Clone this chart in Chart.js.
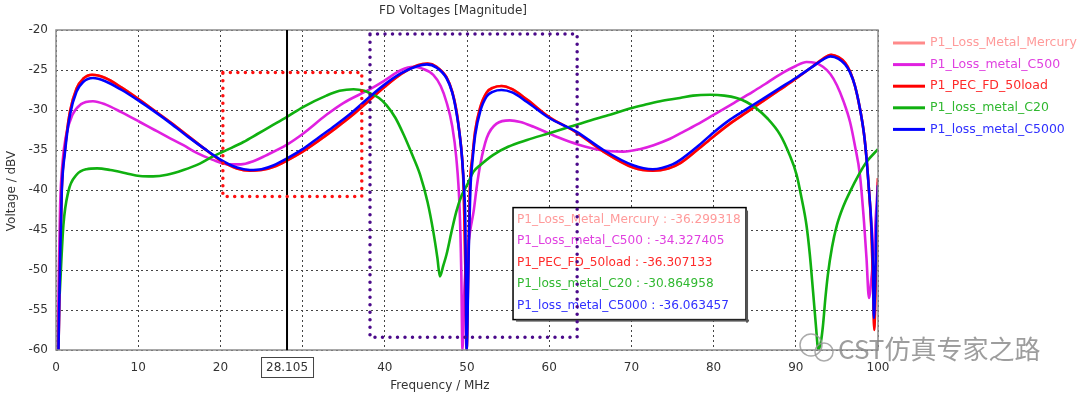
<!DOCTYPE html>
<html>
<head>
<meta charset="utf-8">
<script src="https://cdn.jsdelivr.net/npm/chart.js@4.4.1/dist/chart.umd.min.js"></script>
<style>
  body { margin: 0; background: #fff; }
  #wrap { width: 1080px; height: 397px; position: relative; }
</style>
</head>
<body>
<div id="wrap"><canvas id="chart"></canvas></div>
<script>
var FONT = '"DejaVu Sans", Verdana, sans-serif';

var seriesNames = ['P1_Loss_Metal_Mercury', 'P1_Loss_metal_C500', 'P1_PEC_FD_50load', 'P1_loss_metal_C20', 'P1_loss_metal_C5000'];
var probeValues = ['-36.299318', '-34.327405', '-36.307133', '-30.864958', '-36.063457'];
var markerFreq = 28.105;
var xTicks = [0, 10, 20, 30, 40, 50, 60, 70, 80, 90, 100];
var yTicks = [-60, -55, -50, -45, -40, -35, -30, -25, -20];

// P1_PEC_FD_50load
var freqPEC = [0.3, 0.5, 0.7, 1.1, 1.7, 2.5, 3.3, 4.4, 6, 8, 10, 12, 14, 16, 18, 20, 22, 23.6, 25, 26.5, 28.1, 30, 32, 34, 36, 38, 40, 42, 44, 45.2, 46.3, 47.5, 48.2, 48.7, 49.1, 49.4, 49.6, 49.75, 49.85, 49.95, 50.15, 50.35, 50.7, 51, 51.6, 52.4, 53.2, 54.2, 55.5, 57.3, 60, 63.3, 66.6, 70.2, 72.6, 74.5, 76, 78, 80, 82, 84, 86, 88, 90, 92, 93.3, 94.3, 95.2, 96, 96.6, 97.2, 97.8, 98.3, 98.6, 98.9, 99.2, 99.4, 99.55, 99.7, 99.85, 100];
var voltPEC = [-60, -48, -39.8, -34.8, -30.2, -27.3, -26.1, -25.6, -26.0, -27.2, -28.6, -30.1, -31.6, -33.2, -34.8, -36.3, -37.3, -37.6, -37.5, -37.1, -36.31, -35.2, -33.8, -32.3, -30.7, -28.9, -27.1, -25.5, -24.4, -24.2, -24.6, -25.9, -27.7, -30.0, -33, -36, -40, -47, -53, -60, -50, -40, -35.5, -32.6, -29.7, -27.8, -27.2, -27.0, -27.4, -28.7, -30.9, -32.8, -35.2, -37.2, -37.6, -37.3, -36.6, -35.0, -33.3, -31.7, -30.3, -28.9, -27.5, -26.1, -24.6, -23.6, -23.1, -23.4, -24.1, -25.2, -27, -29.8, -33, -36, -40, -45, -52, -57.5, -52, -45, -38.5];

// P1_Loss_Metal_Mercury (almost hidden under the PEC curve)
var freqMercury = freqPEC;
var voltMercury = [-60, -48.1, -39.9, -34.8, -30.2, -27.3, -26.1, -25.6, -26.0, -27.2, -28.6, -30.1, -31.6, -33.2, -34.8, -36.3, -37.3, -37.6, -37.5, -37.1, -36.30, -35.2, -33.8, -32.3, -30.7, -28.9, -27.1, -25.5, -24.4, -24.2, -24.6, -25.9, -27.7, -30.0, -33, -36, -40, -47, -53, -60, -50, -40, -35.5, -32.6, -29.7, -27.8, -27.2, -27.0, -27.4, -28.7, -30.9, -32.8, -35.2, -37.2, -37.6, -37.3, -36.6, -35.0, -33.3, -31.7, -30.3, -28.9, -27.5, -26.1, -24.6, -23.6, -23.1, -23.4, -24.1, -25.2, -27, -29.8, -33, -36, -40, -45, -52, -57.3, -52, -45, -38.6];

// P1_loss_metal_C5000
var freqC5000 = [0.3, 0.5, 0.7, 1.1, 1.7, 2.5, 3.3, 4.5, 6, 8, 10, 12, 14, 16, 18, 20, 22, 23.6, 25, 26.5, 28.1, 30, 32, 34, 36, 38, 40, 42, 44, 45.1, 46.3, 47.5, 48.2, 48.7, 49.1, 49.4, 49.65, 49.8, 49.95, 50.2, 50.4, 50.7, 51, 51.6, 52.4, 53.2, 54.2, 55.5, 57.3, 60, 63.3, 66.6, 70.2, 72.6, 75, 76, 78, 80, 82, 84, 86, 88, 90, 92, 93.3, 94.2, 95.2, 96, 96.6, 97.2, 97.8, 98.3, 98.6, 98.9, 99.2, 99.4, 99.5, 99.65, 99.8, 100];
var voltC5000 = [-60, -48.5, -40.2, -35.2, -30.6, -27.7, -26.5, -26.0, -26.4, -27.5, -28.8, -30.2, -31.7, -33.3, -34.8, -36.2, -37.2, -37.5, -37.4, -36.9, -36.06, -34.9, -33.4, -31.9, -30.3, -28.5, -26.8, -25.4, -24.5, -24.3, -24.7, -26.0, -27.8, -30.2, -33, -36, -40, -44.4, -60, -48, -40.2, -36, -33.1, -30.2, -28.3, -27.7, -27.5, -27.8, -29, -31.0, -32.7, -35.0, -36.9, -37.4, -36.8, -36.2, -34.6, -32.8, -31.2, -29.9, -28.6, -27.3, -26.0, -24.6, -23.7, -23.3, -23.6, -24.3, -25.3, -27, -29.8, -33, -36, -40, -44.4, -50, -56, -52, -45, -39.4];

// P1_Loss_metal_C500
var freqC500 = [0.2, 0.35, 0.5, 0.8, 1.2, 2, 3, 4.5, 6, 8, 10.2, 12, 14, 15.5, 17, 19, 21, 22.5, 24, 25.5, 28.1, 30, 32.9, 35, 38.2, 40, 42, 43.5, 44.5, 45.9, 46.8, 47.5, 48.2, 48.7, 49.1, 49.3, 49.45, 49.7, 50, 50.4, 50.8, 51.2, 51.6, 52.4, 53.6, 55.2, 56.5, 58.1, 61.3, 63.5, 66.2, 69, 71, 72.7, 74.7, 76, 78, 80, 82.5, 84.8, 86.5, 88.5, 90, 91.3, 92.3, 93.3, 94.2, 95, 95.8, 96.6, 97.2, 97.8, 98.3, 98.6, 98.9, 99.2, 99.5, 99.75, 100];
var voltC500 = [-60, -50, -42, -36.5, -33.3, -30.6, -29.3, -28.9, -29.3, -30.3, -31.5, -32.5, -33.6, -34.4, -35.3, -36.2, -36.8, -36.8, -36.4, -35.7, -34.33, -33.0, -30.6, -29.1, -27.4, -26.3, -25.0, -24.6, -24.8, -25.6, -27, -29, -32, -36, -42.3, -50, -60, -52, -48, -45, -42.7, -39.5, -36.9, -33.5, -31.7, -31.3, -31.5, -32.1, -33.5, -34.3, -35.0, -35.2, -34.9, -34.4, -33.6, -32.9, -31.8, -30.6, -29.1, -27.7, -26.6, -25.3, -24.5, -24.0, -24.1, -24.6, -25.5, -26.9, -28.9, -31.5, -34.5, -38.1, -44, -48.5, -53.5, -51, -47.7, -43, -39];

// P1_loss_metal_C20
var freqC20 = [0.45, 0.9, 1.5, 2.5, 3.7, 5, 6.6, 8.5, 10.2, 11.8, 13.5, 15.5, 17.5, 19.1, 21, 22.8, 24.5, 26, 28.1, 30.1, 32.9, 34.5, 36.2, 37.5, 38.2, 39.3, 40.2, 41.3, 42.3, 43.3, 44.3, 45.2, 45.9, 46.4, 46.7, 47.1, 47.5, 48.1, 48.7, 49.3, 50, 50.8, 51.6, 53.2, 55, 57.3, 60, 62.5, 65, 67.4, 69.5, 71.4, 73.5, 75.9, 77.5, 79.6, 81.3, 82.8, 84, 85.2, 86.5, 88.1, 89.2, 90.1, 90.7, 91.3, 91.7, 92.1, 92.45, 92.75, 93.05, 93.3, 93.6, 93.9, 94.4, 95, 95.8, 96.6, 97.6, 98.6, 100];
var voltC20 = [-53, -44.4, -40.2, -38.1, -37.4, -37.3, -37.5, -37.9, -38.25, -38.3, -38.1, -37.5, -36.7, -35.8, -34.9, -34.0, -33.0, -32.1, -30.86, -29.6, -28.2, -27.6, -27.4, -27.6, -27.9, -28.5, -29.4, -31.0, -33.1, -35.5, -38.1, -41.5, -45.2, -48.5, -50.8, -49.5, -48.1, -45.3, -42.7, -40.8, -39.4, -37.7, -36.9, -35.6, -34.6, -33.75, -32.9, -32.1, -31.3, -30.6, -29.9, -29.4, -28.9, -28.5, -28.2, -28.1, -28.2, -28.5, -29.0, -29.8, -31.0, -33.1, -35.5, -38.1, -41, -44.4, -48, -52.7, -57, -60, -59, -57, -53.5, -50.6, -47.2, -44.4, -42, -40.2, -38.2, -36.5, -34.9];

var colors = ['#ff8a8a', '#e020e0', '#ff0000', '#10b010', '#0000ff'];
var textColors = ['#ff9a9a', '#e040e0', '#ff2a2a', '#30b830', '#3030ff'];

function pts(xs, ys) {
    var out = [];
    for (var i = 0; i < xs.length; i++) out.push({ x: xs[i], y: ys[i] });
    return out;
}

var allData = [pts(freqMercury, voltMercury), pts(freqC500, voltC500), pts(freqPEC, voltPEC), pts(freqC20, voltC20), pts(freqC5000, voltC5000)];

var overlay = {
    id: 'overlay',
    afterDatasetsDraw: function (chart) {
        var ctx = chart.ctx, a = chart.chartArea, x = chart.scales.x, y = chart.scales.y;
        ctx.save();

        // plot frame
        ctx.strokeStyle = '#8c8c8c';
        ctx.lineWidth = 1.5;
        ctx.strokeRect(a.left, a.top, a.right - a.left, a.bottom - a.top);

        // marker line
        var mx = x.getPixelForValue(markerFreq);
        ctx.strokeStyle = '#000';
        ctx.lineWidth = 2;
        ctx.beginPath();
        ctx.moveTo(mx, a.top);
        ctx.lineTo(mx, a.bottom);
        ctx.stroke();

        // marker label box
        ctx.font = '12px ' + FONT;
        var lbl = String(markerFreq);
        var w = ctx.measureText(lbl).width + 10;
        ctx.fillStyle = '#fff';
        ctx.fillRect(mx - w / 2, a.bottom + 7, w, 20);
        ctx.strokeStyle = '#444';
        ctx.lineWidth = 1;
        ctx.strokeRect(mx - w / 2 + 0.5, a.bottom + 7.5, w, 20);
        ctx.fillStyle = '#333';
        ctx.textAlign = 'center';
        ctx.textBaseline = 'middle';
        ctx.fillText(lbl, mx, a.bottom + 18);

        // probe values box
        var bx = x.getPixelForValue(55.6), by = y.getPixelForValue(-42.2);
        var bw = 233, bh = 112;
        ctx.fillStyle = '#fff';
        ctx.fillRect(bx, by, bw, bh);
        ctx.strokeStyle = '#000';
        ctx.lineWidth = 1.5;
        ctx.strokeRect(bx, by, bw, bh);
        ctx.fillStyle = '#555';
        ctx.fillRect(bx + 3, by + bh, bw, 2);
        ctx.fillRect(bx + bw, by + 3, 2, bh);
        ctx.font = '12.1px ' + FONT;
        ctx.textAlign = 'left';
        for (var i = 0; i < seriesNames.length; i++) {
            ctx.fillStyle = textColors[i];
            ctx.fillText(seriesNames[i] + ' : ' + probeValues[i], bx + 4, by + 12 + i * 21.5);
        }

        // dotted rectangles
        ctx.lineCap = 'round';
        ctx.setLineDash([0, 7.5]);
        ctx.lineWidth = 3.5;
        ctx.strokeStyle = '#ff1010';
        var rx1 = x.getPixelForValue(20.3), rx2 = x.getPixelForValue(37.2);
        var ry1 = y.getPixelForValue(-25.3), ry2 = y.getPixelForValue(-40.8);
        ctx.strokeRect(rx1, ry1, rx2 - rx1, ry2 - ry1);
        ctx.strokeStyle = '#4b0a8a';
        var px1 = x.getPixelForValue(38.2), px2 = x.getPixelForValue(63.4);
        var py1 = y.getPixelForValue(-20.5), py2 = y.getPixelForValue(-58.4);
        ctx.strokeRect(px1, py1, px2 - px1, py2 - py1);
        ctx.setLineDash([]);
        ctx.lineCap = 'butt';

        // titles
        ctx.fillStyle = '#333';
        ctx.font = '12px ' + FONT;
        ctx.textAlign = 'center';
        ctx.fillText('FD Voltages [Magnitude]', 453, 11);
        ctx.fillText('Frequency / MHz', 440, 386);
        ctx.save();
        ctx.translate(12, 191);
        ctx.rotate(-Math.PI / 2);
        ctx.fillText('Voltage / dBV', 0, 0);
        ctx.restore();

        // legend
        ctx.textAlign = 'left';
        ctx.font = '12.5px ' + FONT;
        for (var j = 0; j < seriesNames.length; j++) {
            var ly = 43 + j * 21.6;
            ctx.strokeStyle = colors[j];
            ctx.lineWidth = 3;
            ctx.beginPath();
            ctx.moveTo(893, ly);
            ctx.lineTo(925, ly);
            ctx.stroke();
            ctx.fillStyle = textColors[j];
            ctx.fillText(seriesNames[j], 930, ly);
        }

        // watermark
        ctx.strokeStyle = 'rgba(150,150,150,0.8)';
        ctx.lineWidth = 1.5;
        ctx.beginPath();
        ctx.arc(811, 345, 11, 0, Math.PI * 2);
        ctx.stroke();
        ctx.beginPath();
        ctx.arc(824, 352, 9, 0, Math.PI * 2);
        ctx.stroke();
        ctx.fillStyle = 'rgba(140,140,140,0.85)';
        ctx.font = '26px "Noto Sans CJK SC", sans-serif';
        ctx.fillText('CST仿真专家之路', 838, 349);

        ctx.restore();
    }
};

var datasets = [];
for (var k = 0; k < seriesNames.length; k++) {
    datasets.push({
        label: seriesNames[k],
        data: allData[k],
        borderColor: colors[k],
        borderWidth: 2.6,
        pointRadius: 0,
        fill: false,
        cubicInterpolationMode: 'monotone',
        order: 5 - k
    });
}

new Chart(document.getElementById('chart'), {
    type: 'line',
    data: { datasets: datasets },
    options: {
        responsive: true,
        maintainAspectRatio: false,
        animation: false,
        layout: { padding: { top: 30, right: 202, left: 0, bottom: 0 } },
        plugins: { legend: { display: false }, tooltip: { enabled: false } },
        scales: {
            x: {
                type: 'linear', min: 0, max: 100,
                afterFit: function (s) { s.height = 47; },
                afterBuildTicks: function (s) { s.ticks = xTicks.map(function (v) { return { value: v }; }); },
                ticks: { color: '#333', font: { family: FONT, size: 12 }, padding: 11, maxRotation: 0 },
                grid: { color: '#444', drawTicks: false, lineWidth: 1 },
                border: { display: false, dash: [2, 3] }
            },
            y: {
                type: 'linear', min: -60, max: -20,
                afterFit: function (s) { s.width = 56; },
                afterBuildTicks: function (s) { s.ticks = yTicks.map(function (v) { return { value: v }; }); },
                ticks: { color: '#333', font: { family: FONT, size: 12 }, padding: 8 },
                grid: { color: '#444', drawTicks: false, lineWidth: 1 },
                border: { display: false, dash: [2, 3] }
            }
        }
    },
    plugins: [overlay]
});
</script>
</body>
</html>
